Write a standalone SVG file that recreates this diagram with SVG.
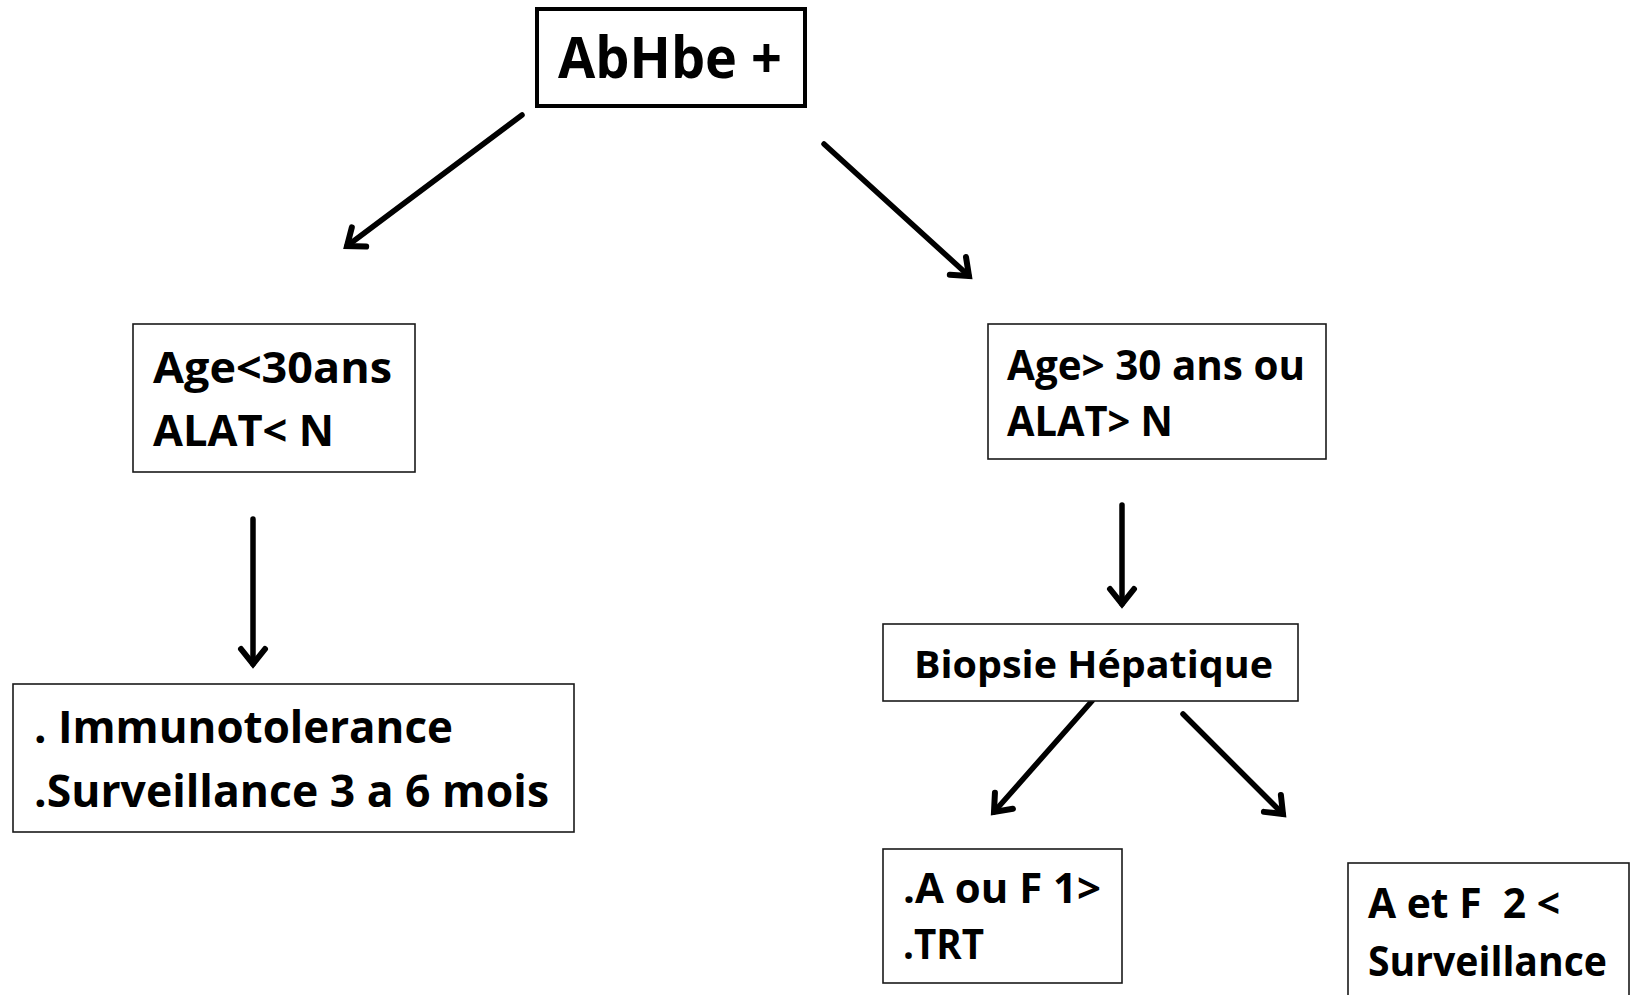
<svg xmlns="http://www.w3.org/2000/svg" width="1635" height="995" viewBox="0 0 1635 995">
<style>
  .box { fill: #ffffff; stroke: #1a1a1a; stroke-width: 1.6; }
  .boxthick { fill: #ffffff; stroke: #000000; stroke-width: 4; }
  .t { font-family: "Open Sans", "Liberation Sans", sans-serif; font-weight: 700; fill: #000000; white-space: pre; }
  .conn { stroke: #000000; stroke-width: 5.5; fill: none; stroke-linecap: round; marker-end: url(#arrow); }
</style>
<defs>
  <marker id="arrow" markerUnits="userSpaceOnUse" viewBox="-20 -16 24 32" refX="0" refY="0" markerWidth="24" markerHeight="32" orient="auto" overflow="visible">
    <path d="M-15,-12 L0,0 L-15,12" fill="none" stroke="#000000" stroke-width="6" stroke-linecap="round" stroke-linejoin="miter"/>
  </marker>
</defs>
<rect x="0" y="0" width="1635" height="995" fill="#ffffff"/>

<g id="connectors">
  <line class="conn" x1="522" y1="115" x2="347" y2="246"/>
  <line class="conn" x1="824" y1="144" x2="969" y2="276"/>
  <line class="conn" x1="253" y1="519" x2="253" y2="664"/>
  <line class="conn" x1="1122" y1="505" x2="1122" y2="604"/>
  <line class="conn" x1="1092" y1="701" x2="994" y2="812"/>
  <line class="conn" x1="1183" y1="714" x2="1283" y2="814"/>
</g>

<g id="node-abhbe">
  <rect class="boxthick" x="537" y="9" width="268" height="97"/>
  <text class="t" x="558" y="78" font-size="58" textLength="224" lengthAdjust="spacingAndGlyphs">AbHbe +</text>
</g>

<g id="node-age-lt30">
  <rect class="box" x="133" y="324" width="282" height="148"/>
  <text class="t" x="153" y="383" font-size="43" textLength="239" lengthAdjust="spacingAndGlyphs">Age&lt;30ans</text>
  <text class="t" x="153" y="446" font-size="43" textLength="181" lengthAdjust="spacingAndGlyphs">ALAT&lt; N</text>
</g>

<g id="node-age-gt30">
  <rect class="box" x="988" y="324" width="338" height="135"/>
  <text class="t" x="1007" y="380" font-size="42" textLength="298" lengthAdjust="spacingAndGlyphs">Age&gt; 30 ans ou</text>
  <text class="t" x="1007" y="436" font-size="42" textLength="166" lengthAdjust="spacingAndGlyphs">ALAT&gt; N</text>
</g>

<g id="node-immuno">
  <rect class="box" x="13" y="684" width="561" height="148"/>
  <text class="t" x="34" y="743" font-size="45" textLength="419" lengthAdjust="spacingAndGlyphs">. Immunotolerance</text>
  <text class="t" x="34" y="807" font-size="45" textLength="515" lengthAdjust="spacingAndGlyphs">.Surveillance 3 a 6 mois</text>
</g>

<g id="node-biopsie">
  <rect class="box" x="883" y="624" width="415" height="77"/>
  <text class="t" x="914" y="678" font-size="38" textLength="359" lengthAdjust="spacingAndGlyphs">Biopsie Hépatique</text>
</g>

<g id="node-trt">
  <rect class="box" x="883" y="849" width="239" height="134"/>
  <text class="t" x="903" y="903" font-size="41" textLength="198" lengthAdjust="spacingAndGlyphs">.A ou F 1&gt;</text>
  <text class="t" x="903" y="959" font-size="41" textLength="81" lengthAdjust="spacingAndGlyphs">.TRT</text>
</g>

<g id="node-surveillance">
  <rect class="box" x="1348" y="863" width="281" height="150"/>
  <text class="t" x="1368" y="918" font-size="41" textLength="192" lengthAdjust="spacingAndGlyphs">A et F  2 &lt;</text>
  <text class="t" x="1368" y="976" font-size="41" textLength="239" lengthAdjust="spacingAndGlyphs">Surveillance</text>
</g>
</svg>
